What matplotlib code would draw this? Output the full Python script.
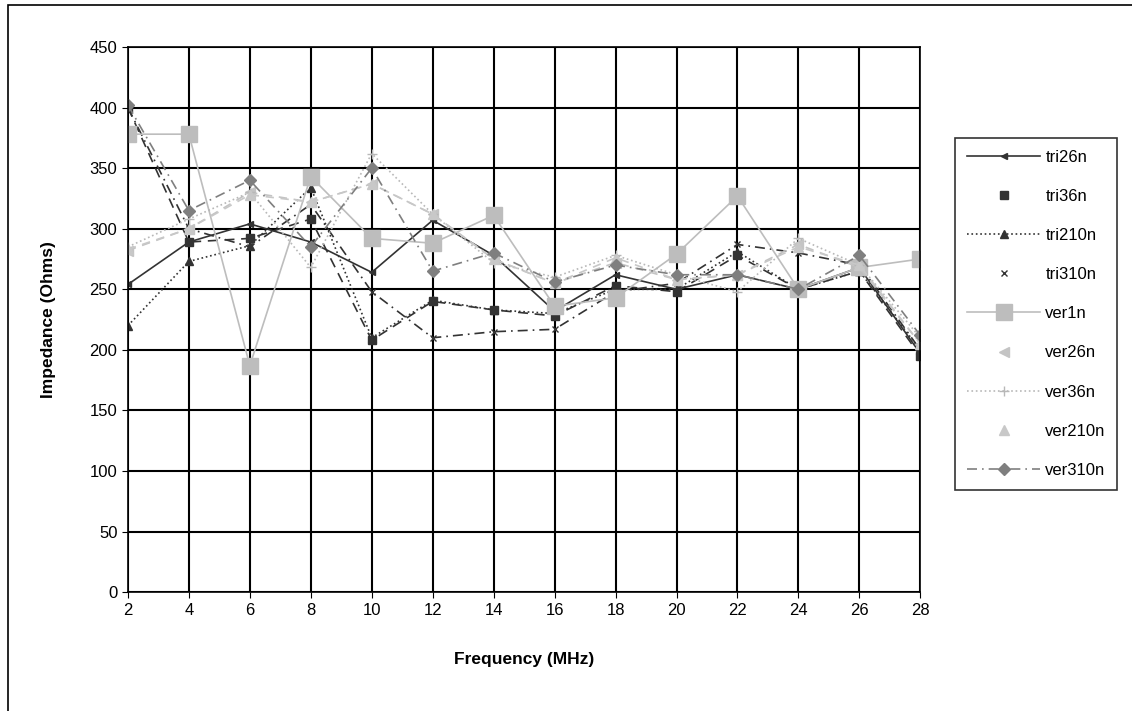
import matplotlib
matplotlib.use("Agg")
import matplotlib.pyplot as plt
from matplotlib.lines import Line2D
from matplotlib.patches import Rectangle

plt.rcParams['font.family'] = ['Liberation Sans', 'DejaVu Sans']

# data
freq = [2, 4, 6, 8, 10, 12, 14, 16, 18, 20, 22, 24, 26, 28]
tri26n = [254, 289, 304, 289, 264, 307, 278, 232, 262, 250, 262, 250, 268, 197]
tri36n = [400, 289, 292, 308, 208, 240, 233, 228, 253, 248, 278, 250, 265, 195]
tri210n = [220, 273, 286, 334, 210, 241, 233, 230, 250, 250, 281, 250, 265, 200]
tri310n = [400, 300, 285, 320, 248, 210, 215, 217, 248, 255, 287, 280, 270, 200]
ver1n = [378, 378, 187, 343, 292, 288, 311, 236, 243, 279, 327, 250, 268, 275]
ver26n = [282, 300, 330, 322, 337, 312, 275, 255, 272, 258, 262, 287, 268, 205]
ver36n = [285, 308, 330, 268, 362, 312, 272, 260, 278, 262, 248, 292, 270, 210]
ver210n = [283, 300, 328, 322, 337, 312, 275, 255, 276, 258, 262, 285, 270, 205]
ver310n = [402, 315, 340, 285, 350, 265, 280, 256, 270, 262, 262, 250, 278, 212]

dark = '#333333'
# (name, values, color, line style in plot, line style in legend, marker, marker size)
series = [
    ("tri26n", tri26n, dark, '-', '-', '<', 5),
    ("tri36n", tri36n, dark, (0, (6, 4)), 'none', 's', 6),
    ("tri210n", tri210n, dark, ':', ':', '^', 6),
    ("tri310n", tri310n, dark, (0, (6, 3, 1, 3)), 'none', 'x', 5),
    ("ver1n", ver1n, '#bdbdbd', '-', '-', 's', 11),
    ("ver26n", ver26n, '#c4c4c4', (0, (5, 4)), 'none', '<', 7),
    ("ver36n", ver36n, '#b8b8b8', ':', ':', '+', 7),
    ("ver210n", ver210n, '#c8c8c8', (0, (5, 4)), 'none', '^', 7),
    ("ver310n", ver310n, '#7f7f7f', (0, (6, 3, 1, 3)), (0, (6, 3, 1, 3)), 'D', 6),
]

fig = plt.figure(figsize=(11.32, 7.11), dpi=100)
ax = fig.add_axes([0.113, 0.167, 0.7, 0.767])

handles = []
for name, vals, col, ls, lls, mk, ms in series:
    ax.plot(freq, vals, color=col, linestyle=ls, linewidth=1.2, marker=mk,
            markersize=ms, markeredgecolor=col, markerfacecolor=col)
    handles.append(Line2D([], [], color=col, linestyle=lls, linewidth=1.2,
                          marker=mk, markersize=ms, markeredgecolor=col,
                          markerfacecolor=col))

ax.set_xlim(2, 28)
ax.set_ylim(0, 450)
ax.set_xticks(freq)
ax.set_yticks(range(0, 451, 50))
ax.grid(True, color='black', linewidth=1.5)
ax.set_axisbelow(True)
for s in ax.spines.values():
    s.set_color('black')
    s.set_linewidth(1.2)
ax.tick_params(labelsize=12, length=4, color='black')
ax.set_xlabel("Frequency (MHz)", fontsize=12.5, fontweight='bold', labelpad=25)
ax.set_ylabel("Impedance (Ohms)", fontsize=12.5, fontweight='bold', labelpad=24)

leg = fig.legend(handles, [s[0] for s in series], loc='upper left',
                 bbox_to_anchor=(0.844, 0.806), fontsize=12, frameon=True,
                 fancybox=False, edgecolor='black', handlelength=4.4,
                 labelspacing=1.45, borderpad=0.7, handletextpad=0.3,
                 borderaxespad=0)
leg.get_frame().set_linewidth(1.2)

# outer chart border
fig.patches.append(Rectangle((0.007, -0.1), 1.1, 1.093, transform=fig.transFigure,
                             fill=False, edgecolor='black', linewidth=1.2))

fig.savefig("out.png", dpi=100)
